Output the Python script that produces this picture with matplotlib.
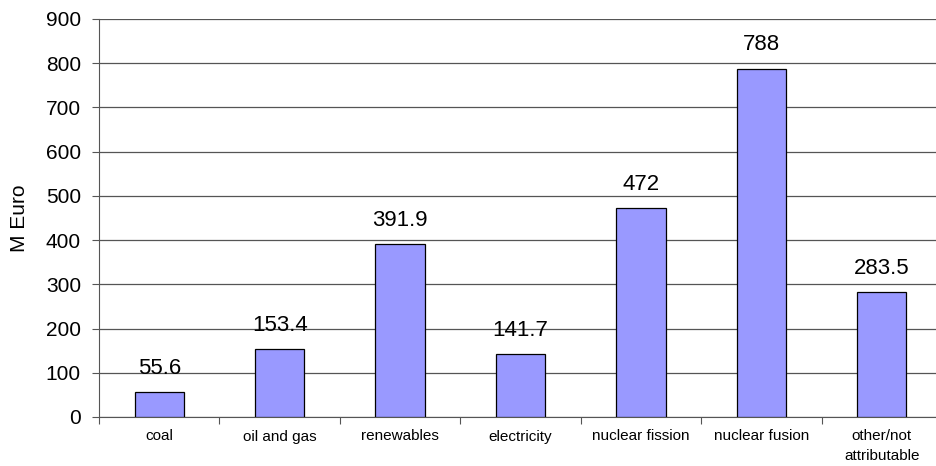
import matplotlib
matplotlib.use('Agg')
import matplotlib.pyplot as plt
import numpy as np

plt.rcParams['font.family'] = ['Liberation Sans', 'DejaVu Sans']

categories = ['coal', 'oil and gas', 'renewables', 'electricity',
              'nuclear fission', 'nuclear fusion', 'other/not\nattributable']
values = [55.6, 153.4, 391.9, 141.7, 472, 788, 283.5]
value_labels = ['55.6', '153.4', '391.9', '141.7', '472', '788', '283.5']
yticks = [0, 100, 200, 300, 400, 500, 600, 700, 800, 900]

fig = plt.figure(figsize=(9.36, 4.66), dpi=100)
ax = fig.add_axes([99 / 936, 1 - 417 / 466, 843 / 936, 398 / 466])

x = np.arange(len(categories))
ax.bar(x, values, width=0.41, color='#9999FF', edgecolor='black', linewidth=0.9, zorder=3)

for xi, v, lab in zip(x, values, value_labels):
    ax.annotate(lab, (xi, v), xytext=(0, 13), textcoords='offset points',
                ha='center', va='baseline', fontsize=16)

ax.set_xlim(-0.5, len(categories) - 0.5)
ax.set_ylim(0, 900)
ax.set_yticks(yticks)
ax.tick_params(axis='y', labelsize=15, length=5, width=0.8, color='#555555', pad=8)
ax.yaxis.grid(True, color='#555555', linewidth=0.9, zorder=0)

# category ticks sit between the bars
ax.set_xticks(x)
ax.set_xticklabels(categories, fontsize=11, linespacing=1.5)
ax.set_xticks(np.arange(len(categories) + 1) - 0.5, minor=True)
ax.tick_params(axis='x', which='major', length=0, pad=9)
ax.tick_params(axis='x', which='minor', length=5, width=0.8, color='#555555')

for side in ['top', 'right']:
    ax.spines[side].set_visible(False)
ax.spines['left'].set_color('#555555')
ax.spines['bottom'].set_color('#555555')

ax.set_ylabel('M Euro', fontsize=15, labelpad=12)

fig.savefig('out.png', dpi=100)
